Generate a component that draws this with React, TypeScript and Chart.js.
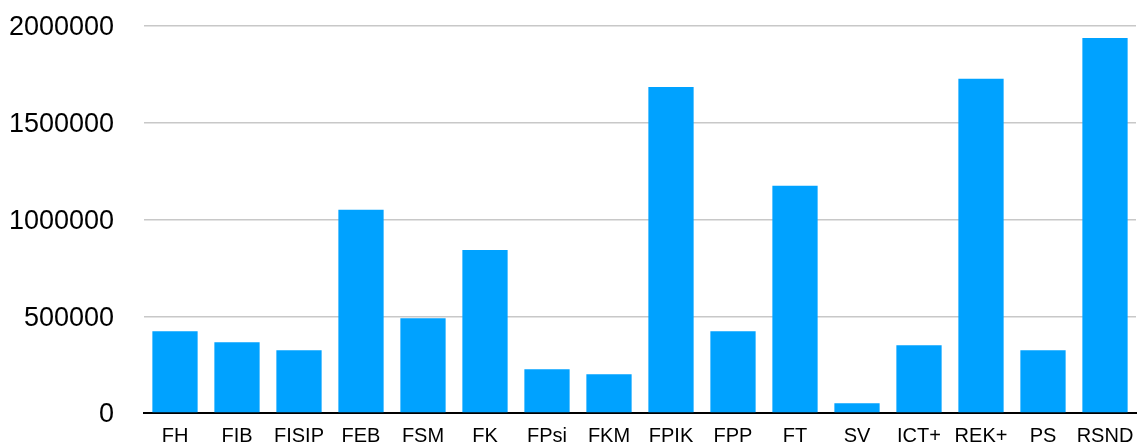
import React, { useEffect, useRef } from "react";
import { Chart, registerables } from "chart.js";

Chart.register(...registerables);

const categories = ["FH", "FIB", "FISIP", "FEB", "FSM", "FK", "FPsi", "FKM", "FPIK", "FPP", "FT", "SV", "ICT+", "REK+", "PS", "RSND"];
const values = [422000, 366000, 324000, 1050000, 490000, 843000, 226000, 200000, 1685000, 422000, 1175000, 50000, 350000, 1727000, 324000, 1938000];
const yTicks = [0, 500000, 1000000, 1500000, 2000000];

const FONT = "'Liberation Sans', Arial, Helvetica, sans-serif";

export default function App() {
  const ref = useRef<HTMLCanvasElement | null>(null);
  useEffect(() => {
    if (!ref.current) return;
    const chart = new Chart(ref.current, {
      type: "bar",
      data: {
        labels: categories,
        datasets: [
          {
            data: values,
            backgroundColor: "#00A2FF",
            borderWidth: 0,
            barPercentage: 0.73,
            categoryPercentage: 1,
          },
        ],
      },
      options: {
        responsive: false,
        animation: false,
        layout: { padding: { top: 26, right: 3, left: 8, bottom: 0 } },
        plugins: { legend: { display: false }, tooltip: { enabled: false } },
        scales: {
          x: {
            afterFit: (axis: any) => {
              axis.height = 33;
              axis.paddingLeft = 0;
              axis.paddingRight = 0;
            },
            grid: { display: true, color: "rgba(0,0,0,0)", drawTicks: false },
            border: { display: true, color: "#000000", width: 2 },
            ticks: { color: "#000", font: { family: FONT, size: 20 }, padding: 11, maxRotation: 0, autoSkip: false },
          },
          y: {
            min: 0,
            max: 2000000,
            afterBuildTicks: (axis: any) => {
              axis.ticks = yTicks.map((v) => ({ value: v }));
            },
            afterFit: (axis: any) => {
              axis.width = 136;
              axis.paddingTop = 0;
              axis.paddingBottom = 0;
            },
            grid: { color: "#c8c8c8", lineWidth: 1.5, drawTicks: false },
            border: { display: false },
            ticks: { color: "#000", font: { family: FONT, size: 27 }, padding: 30, labelOffset: 2, callback: (v: any) => String(v) },
          },
        },
      },
    });
    return () => chart.destroy();
  }, []);
  return (
    <div style={{ position: "absolute", left: 0, top: 0, width: 1139, height: 446, background: "#fff" }}>
      <canvas ref={ref} width={1139} height={446} style={{ display: "block" }} />
    </div>
  );
}
